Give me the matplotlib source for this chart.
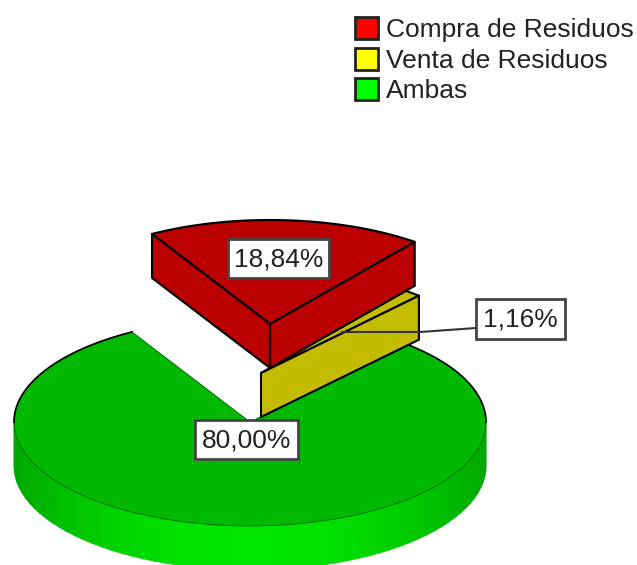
# plot.py
# Exploded 3D-look pie, drawn as polygons in pixel coordinates.

import matplotlib
matplotlib.use('Agg')
import matplotlib.pyplot as plt
from matplotlib.patches import Polygon, Rectangle
import numpy as np

categories = ['Compra de Residuos', 'Venta de Residuos', 'Ambas']
shares = [18.84, 1.16, 80.00]
share_labels = ['18,84%', '1,16%', '80,00%']
top_colors = ['#BA0000', '#C4BC00', '#00B900']
legend_colors = ['#FF0000', '#FFFF00', '#00FF00']

plt.rcParams['font.family'] = ['Liberation Sans', 'DejaVu Sans']

CX, CY = 250, 422
RX, RY = 236, 104
DEPTH = 44
START = 120
TEXT = '#222222'


def rim(t, x0=CX, y0=CY):
	t = np.radians(t)
	return np.column_stack([x0 + RX * np.cos(t), y0 - RY * np.sin(t)])


def wedge(ax, t1, t2, x0, y0, color, lw=1.5, ec='black', z=2):
	pts = np.vstack([[[x0, y0]], rim(np.linspace(t1, t2, 60), x0, y0)])
	ax.add_patch(Polygon(pts, closed=True, fc=color, ec=ec, lw=lw, joinstyle='round', zorder=z))


def wall(ax, a, b, color, z):
	pts = [a, b, (b[0], b[1] + DEPTH), (a[0], a[1] + DEPTH)]
	ax.add_patch(Polygon(pts, closed=True, fc=color, ec='black', lw=1.5, joinstyle='round', zorder=z))


def label_box(ax, x0, y0, x1, y1, text):
	ax.add_patch(Rectangle((x0, y0), x1 - x0, y1 - y0, fc='white', ec='#444444', lw=2, zorder=8))
	ax.text((x0 + x1) / 2, (y0 + y1) / 2 + 1, text, ha='center', va='center', fontsize=19, color=TEXT, zorder=9)


def main():
	fig = plt.figure(figsize=(6.37, 5.65), dpi=100)
	ax = fig.add_axes([0, 0, 1, 1])
	ax.set_xlim(0, 637)
	ax.set_ylim(565, 0)
	ax.axis('off')

	# Slice angles run clockwise from the start angle, as in the original.
	sweep = np.array(shares) / sum(shares) * 360
	red_a, red_b = START, START - sweep[0]
	yel_a, yel_b = red_b, red_b - sweep[1]
	grn_a, grn_b = yel_b, START - 360

	# Green base: shaded front wall, then the top face.
	steps = np.arange(180, 360, 3)
	for t in steps:
		shade = np.abs(np.sin(np.radians(t + 1.5))) ** 2
		green = (0, (168 + 62 * shade) / 255, 0)
		a = rim(np.array([t, t + 3.3]))
		pts = np.vstack([a, a[::-1] + [0, DEPTH]])
		ax.add_patch(Polygon(pts, closed=True, fc=green, ec=green, lw=0.6, zorder=1))
	wedge(ax, grn_a, grn_b, CX, CY, top_colors[2], lw=0.6, ec='#006000')
	upper = rim(np.linspace(grn_a, 0, 30))
	ax.plot(upper[:, 0], upper[:, 1], color='black', lw=1.2, zorder=3)
	upper = rim(np.linspace(180, START, 40))
	ax.plot(upper[:, 0], upper[:, 1], color='black', lw=1.2, zorder=3)

	# Yellow slice, pulled out.
	yx, yy = 261, 373
	wedge(ax, yel_a, yel_b, yx, yy, top_colors[1], z=4)
	wall(ax, (yx, yy), tuple(rim(yel_b, yx, yy)[0]), top_colors[1], 4)

	# Red slice, pulled out further.
	rx, ry = 270, 324
	wedge(ax, red_a, red_b, rx, ry, top_colors[0], z=5)
	wall(ax, tuple(rim(red_a, rx, ry)[0]), (rx, ry), top_colors[0], 5)
	wall(ax, (rx, ry), tuple(rim(red_b, rx, ry)[0]), top_colors[0], 5)

	# Leader line for the small slice.
	ax.plot([342, 420, 476], [332, 332, 328], color='#333333', lw=1.5, zorder=6)

	label_box(ax, 228, 239, 329, 278, share_labels[0])
	label_box(ax, 476, 299, 565, 339, share_labels[1])
	label_box(ax, 195, 420, 298, 459, share_labels[2])

	# Legend.
	for name, color, y0 in zip(categories, legend_colors, [17, 48, 78]):
		ax.add_patch(Rectangle((355, y0), 23, 22, fc=color, ec='#222222', lw=2, zorder=8))
		ax.text(386, y0 + 13, name, ha='left', va='center', fontsize=19, color=TEXT, zorder=9)

	fig.savefig('out.png', dpi=100)
	plt.close(fig)


if __name__ == '__main__':
	main()
